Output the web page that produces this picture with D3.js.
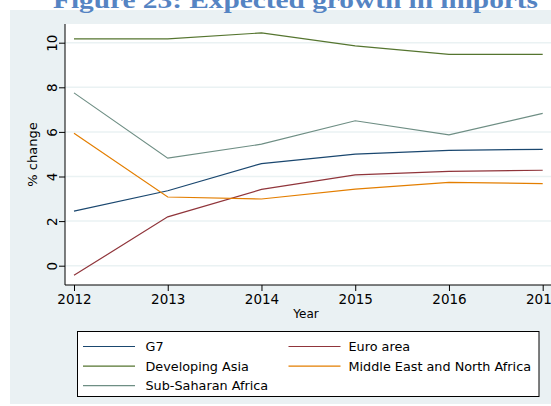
<!DOCTYPE html>
<html>
<head>
<meta charset="utf-8">
<script src="https://cdn.jsdelivr.net/npm/d3@7"></script>
<style>
  body { margin: 0; background: #fff; }
  svg { display: block; }
  text { font-family: "DejaVu Sans", sans-serif; }
</style>
</head>
<body>
<div id="chart"></div>
<script>
var years = [2012, 2013, 2014, 2015, 2016, 2017];
var g7 = [2.45, 3.36, 4.58, 5.0, 5.17, 5.22];
var euroArea = [-0.43, 2.19, 3.42, 4.07, 4.23, 4.28];
var devAsia = [10.17, 10.17, 10.44, 9.86, 9.48, 9.48];
var mena = [5.94, 3.08, 2.99, 3.43, 3.74, 3.68];
var ssa = [7.75, 4.82, 5.45, 6.5, 5.87, 6.83];
var yTicks = [0, 2, 4, 6, 8, 10];

var series = [
  { name: 'G7', values: g7, colour: '#1a476f' },
  { name: 'Euro area', values: euroArea, colour: '#90353b' },
  { name: 'Developing Asia', values: devAsia, colour: '#55752f' },
  { name: 'Middle East and North Africa', values: mena, colour: '#e37e00' },
  { name: 'Sub-Saharan Africa', values: ssa, colour: '#6e8e84' }
];

var W = 551, H = 406;
var PLOT_LEFT = 65, PLOT_TOP = 24, PLOT_BOTTOM = 285;

var svg = d3.select('#chart').append('svg')
  .attr('width', W)
  .attr('height', H);

// graph region
svg.append('rect')
  .attr('x', 10).attr('y', 10)
  .attr('width', W - 10).attr('height', H - 12)
  .attr('fill', '#eaf1f3');

// title (cut off at the top in the original)
svg.append('text')
  .attr('x', 53).attr('y', 7.5)
  .attr('textLength', 485)
  .attr('lengthAdjust', 'spacingAndGlyphs')
  .style('font-family', '"Liberation Serif", "Times New Roman", serif')
  .style('font-weight', 'bold')
  .style('font-size', '24px')
  .attr('fill', '#5584c3')
  .text('Figure 23: Expected growth in imports');

var x = d3.scaleLinear().domain([2012, 2017]).range([74, 542.7]);
var y = d3.scaleLinear().domain([0, 10]).range([265.7, 42.7]);

// plot region
svg.append('rect')
  .attr('x', PLOT_LEFT).attr('y', PLOT_TOP)
  .attr('width', W - PLOT_LEFT).attr('height', PLOT_BOTTOM - PLOT_TOP)
  .attr('fill', '#fff');

// grid
svg.append('g').selectAll('line')
  .data(yTicks)
  .enter().append('line')
  .attr('x1', PLOT_LEFT).attr('x2', W)
  .attr('y1', (d) => y(d)).attr('y2', (d) => y(d))
  .attr('stroke', '#eaf2f3')
  .attr('stroke-width', 1.5);

// lines
var line = d3.line()
  .x((d, i) => x(years[i]))
  .y((d) => y(d));

svg.append('g').selectAll('path')
  .data(series)
  .enter().append('path')
  .attr('d', (d) => line(d.values))
  .attr('fill', 'none')
  .attr('stroke', (d) => d.colour)
  .attr('stroke-width', 1.2);

// axes
var yAxis = svg.append('g')
  .attr('transform', 'translate(' + PLOT_LEFT + ',0)')
  .call(d3.axisLeft(y).tickValues(yTicks).tickSize(6).tickPadding(4));
yAxis.select('.domain').attr('d', 'M0,' + PLOT_TOP + 'V' + PLOT_BOTTOM).attr('stroke', '#000');
yAxis.selectAll('.tick text')
  .attr('x', null).attr('dy', null)
  .attr('text-anchor', 'middle')
  .attr('transform', 'translate(-13,0) rotate(-90)')
  .attr('dy', '0.35em')
  .style('font-size', '13.5px')
  .attr('fill', '#000');

var xAxis = svg.append('g')
  .attr('transform', 'translate(0,' + PLOT_BOTTOM + ')')
  .call(d3.axisBottom(x).tickValues(years).tickFormat(d3.format('d')).tickSize(6).tickPadding(3));
xAxis.select('.domain').attr('d', 'M' + PLOT_LEFT + ',0H' + W).attr('stroke', '#000');
xAxis.selectAll('.tick text')
  .style('font-size', '13.5px')
  .attr('fill', '#000');

// axis titles
svg.append('text')
  .attr('transform', 'translate(37,' + ((PLOT_TOP + PLOT_BOTTOM) / 2) + ') rotate(-90)')
  .attr('text-anchor', 'middle')
  .style('font-size', '13px')
  .text('% change');

svg.append('text')
  .attr('x', 306).attr('y', 318)
  .attr('text-anchor', 'middle')
  .style('font-size', '12px')
  .text('Year');

// legend
var legend = svg.append('g');
legend.append('rect')
  .attr('x', 77.5).attr('y', 331.5)
  .attr('width', 461.5).attr('height', 65)
  .attr('fill', '#fff')
  .attr('stroke', '#000');

var legendItems = legend.selectAll('g.item')
  .data(series)
  .enter().append('g')
  .attr('class', 'item')
  .attr('transform', (d, i) => 'translate(' + (i % 2 === 0 ? 83 : 288.5) + ',' + (346.5 + Math.floor(i / 2) * 19.6) + ')');

legendItems.append('line')
  .attr('x1', 0).attr('x2', 52)
  .attr('stroke', (d) => d.colour)
  .attr('stroke-width', 1.2);

legendItems.append('text')
  .attr('x', (d, i) => i % 2 === 0 ? 62.5 : 60)
  .attr('dy', '0.35em')
  .style('font-size', '12.8px')
  .text((d) => d.name);
</script>
</body>
</html>
